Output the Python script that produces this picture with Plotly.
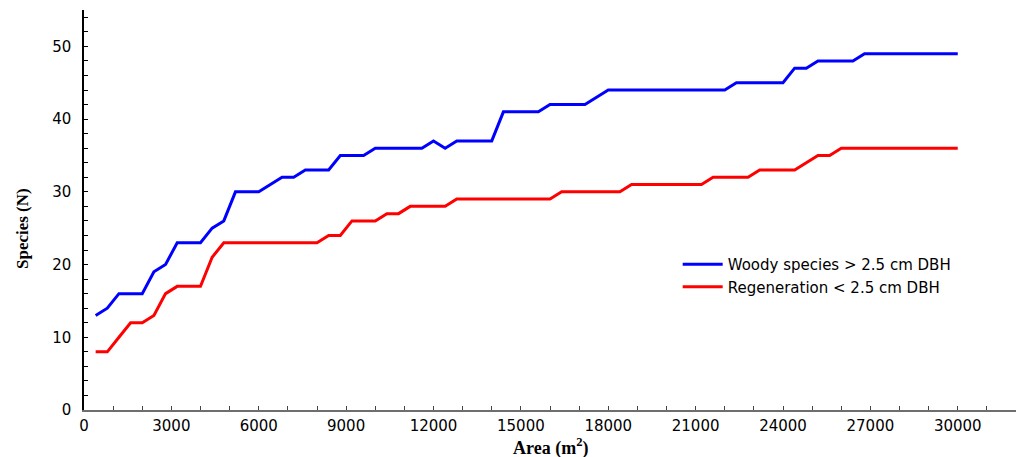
import plotly.graph_objects as go

# Sampled plot area (m²), every 400 m² up to 30 000 m²
area = list(range(400, 30001, 400))

# Cumulative species counts
woody = [
    13, 14, 16, 16, 16, 19, 20, 23, 23, 23,
    25, 26, 30, 30, 30, 31, 32, 32, 33, 33,
    33, 35, 35, 35, 36, 36, 36, 36, 36, 37,
    36, 37, 37, 37, 37, 41, 41, 41, 41, 42,
    42, 42, 42, 43, 44, 44, 44, 44, 44, 44,
    44, 44, 44, 44, 44, 45, 45, 45, 45, 45,
    47, 47, 48, 48, 48, 48, 49, 49, 49, 49,
    49, 49, 49, 49, 49,
]
regeneration = [
    8, 8, 10, 12, 12, 13, 16, 17, 17, 17,
    21, 23, 23, 23, 23, 23, 23, 23, 23, 23,
    24, 24, 26, 26, 26, 27, 27, 28, 28, 28,
    28, 29, 29, 29, 29, 29, 29, 29, 29, 29,
    30, 30, 30, 30, 30, 30, 31, 31, 31, 31,
    31, 31, 31, 32, 32, 32, 32, 33, 33, 33,
    33, 34, 35, 35, 36, 36, 36, 36, 36, 36,
    36, 36, 36, 36, 36,
]

series_names = ["Woody species > 2.5 cm DBH", "Regeneration < 2.5 cm DBH"]
x_tick_values = list(range(0, 30001, 3000))
y_tick_values = list(range(0, 51, 10))

tick_font = dict(family="DejaVu Sans", size=15, color="black")
title_font = dict(family="Liberation Serif", size=18, color="black")

fig = go.Figure()
fig.add_trace(go.Scatter(x=area, y=woody, mode="lines", name=series_names[0],
                         line=dict(color="#0000FF", width=3)))
fig.add_trace(go.Scatter(x=area, y=regeneration, mode="lines", name=series_names[1],
                         line=dict(color="#FF0000", width=3)))

fig.update_layout(
    width=1016, height=457,
    margin=dict(l=84, r=0, t=10, b=47),
    paper_bgcolor="white", plot_bgcolor="white",
    showlegend=True,
    legend=dict(x=0.637, y=0.405, xanchor="left", yanchor="top",
                font=dict(family="DejaVu Sans", size=15, color="black"),
                bgcolor="rgba(0,0,0,0)", borderwidth=0,
                tracegroupgap=0, itemwidth=40),
)

fig.update_xaxes(
    range=[0, 32000], tickvals=x_tick_values,
    ticktext=[str(v) for v in x_tick_values],
    showgrid=False, zeroline=False,
    showline=True, linecolor="#6e6e6e", linewidth=2,
    ticks="inside", ticklen=4, tickcolor="#444", tickwidth=1,
    minor=dict(dtick=1000, ticks="inside", ticklen=4, tickcolor="#444", tickwidth=1, showgrid=False),
    tickfont=tick_font, ticklabelstandoff=1,
)
fig.update_yaxes(
    range=[0, 55], tickvals=y_tick_values,
    showgrid=False, zeroline=False,
    showline=True, linecolor="black", linewidth=1.5,
    ticks="inside", ticklen=4, tickcolor="black", tickwidth=1,
    minor=dict(dtick=2, ticks="inside", ticklen=4, tickcolor="black", tickwidth=1, showgrid=False),
    tickfont=tick_font, ticklabelstandoff=8,
)

# Axis titles
fig.add_annotation(text="<b>Area (m<sup>2</sup>)</b>", xref="paper", yref="paper",
                   x=0.5, y=-0.093, xanchor="center", yanchor="middle",
                   showarrow=False, font=title_font)
fig.add_annotation(text="<b>Species (N)</b>", xref="paper", yref="paper",
                   x=-0.0665, y=0.4525, xanchor="center", yanchor="middle",
                   textangle=-90, showarrow=False,
                   font=dict(family="Liberation Serif", size=17, color="black"))

fig.write_html("out.html")
